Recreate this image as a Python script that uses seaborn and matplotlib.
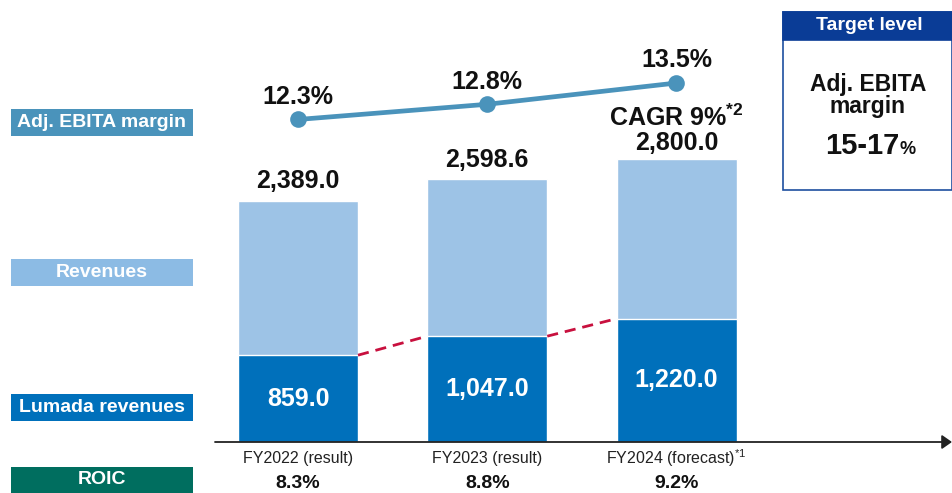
import matplotlib
matplotlib.use("Agg")
import matplotlib.pyplot as plt
from matplotlib.patches import Rectangle
import seaborn as sns
import pandas as pd

# ---- data ----
categories = ["FY2022 (result)", "FY2023 (result)", "FY2024 (forecast)"]
category_labels = ["FY2022 (result)", "FY2023 (result)", r"FY2024 (forecast)$^{*1}$"]
revenues = [2389.0, 2598.6, 2800.0]
lumada = [859.0, 1047.0, 1220.0]
ebita_margin = [12.3, 12.8, 13.5]
roic = ["8.3%", "8.8%", "9.2%"]
revenue_labels = ["2,389.0", "2,598.6", "2,800.0"]
lumada_labels = ["859.0", "1,047.0", "1,220.0"]
margin_labels = ["12.3%", "12.8%", "13.5%"]

sns.set_theme(style="white")
plt.rcParams["font.family"] = ["Liberation Sans", "DejaVu Sans"]
plt.rcParams["mathtext.fontset"] = "custom"
plt.rcParams["mathtext.rm"] = "Liberation Sans"
plt.rcParams["mathtext.bf"] = "Liberation Sans:bold"

W, H = 953, 493
fig = plt.figure(figsize=(W / 100, H / 100), dpi=100)

def fx(px):
    return px / W

def fy(py):
    return 1 - py / H

PT = 0.72  # points per pixel at dpi 100

# main axes: baseline at pixel 442, top at pixel 0
base_px = 442
ax = fig.add_axes([fx(215), fy(base_px), fx(952) - fx(215), fy(0) - fy(base_px)])
scale = 283 / 2800.0  # px per unit
spacing = 189.25
c0 = 298
xlim = ((215 - c0) / spacing, (952 - c0) / spacing)

df = pd.DataFrame({"cat": categories, "rev": revenues, "lum": lumada})
bw = 120 / spacing
sns.barplot(data=df, x="cat", y="rev", color="#9dc3e6", width=bw, ax=ax,
            edgecolor="white", linewidth=1.0, saturation=1)
sns.barplot(data=df, x="cat", y="lum", color="#0070bb", width=bw, ax=ax,
            edgecolor="white", linewidth=1.0, saturation=1)
ax.set_xlim(*xlim)
ax.set_ylim(0, base_px / scale)
for s in ax.spines.values():
    s.set_visible(False)
ax.set_xticks([])
ax.set_yticks([])
ax.set_xlabel("")
ax.set_ylabel("")

# axis line with arrow
ax.annotate("", xy=(1.0, 0), xytext=(0, 0), xycoords="axes fraction",
            arrowprops=dict(arrowstyle="-|>,head_length=0.5,head_width=0.35",
                            color="#222222", lw=1.3, shrinkA=0, shrinkB=0),
            annotation_clip=False)

# dashed connectors between lumada tops
for i in range(len(lumada) - 1):
    ax.plot([i + bw / 2, i + 1 - bw / 2], [lumada[i], lumada[i + 1]],
            color="#c8103e", lw=2, ls=(0, (4, 2.5)))

# labels
for i in range(len(categories)):
    if i < 2:
        ax.annotate(revenue_labels[i], (i, revenues[i]), xytext=(0, 19.5 * PT),
                    textcoords="offset points", ha="center", va="center",
                    fontsize=18, fontweight="bold", color="#111111")
    ax.text(i, lumada[i] / 2, lumada_labels[i], ha="center", va="center",
            fontsize=18, fontweight="bold", color="white")
    ax.annotate(category_labels[i], (i, 0), xytext=(0, -16 * PT),
                textcoords="offset points", ha="center", va="center",
                fontsize=11.5, color="#222222", annotation_clip=False)
    ax.annotate(roic[i], (i, 0), xytext=(0, -41 * PT), textcoords="offset points",
                ha="center", va="center", fontsize=14, fontweight="bold",
                color="#111111", annotation_clip=False)

# 2,800.0 and CAGR
ax.annotate(revenue_labels[2], (2, revenues[2]), xytext=(0, 16 * PT),
            textcoords="offset points", ha="center", va="center",
            fontsize=18, fontweight="bold", color="#111111")
ax.annotate(r"CAGR 9%$^{\mathbf{*2}}$", (2, revenues[2]), xytext=(0, 41 * PT),
            textcoords="offset points", ha="center", va="center",
            fontsize=18, fontweight="bold", color="#111111")

# margin line on twin axis
ax2 = ax.twinx()
ax2.set_ylim((493.4 - base_px) / 30.4, 493.4 / 30.4)
sns.lineplot(x=[0, 1, 2], y=ebita_margin, ax=ax2, color="#4a93bb", lw=3.4,
             marker="o", markersize=12, markeredgewidth=0)
ax2.set_xlim(*xlim)
for s in ax2.spines.values():
    s.set_visible(False)
ax2.set_yticks([])
ax2.set_ylabel("")
for i, v in enumerate(ebita_margin):
    ax2.annotate(margin_labels[i], (i, v), xytext=(0, 22.5 * PT),
                 textcoords="offset points", ha="center", va="center",
                 fontsize=18, fontweight="bold", color="#111111")

# left legend-like boxes
boxes = [("Adj. EBITA margin", 109, 136, "#4a93bb"),
         ("Revenues", 259, 286, "#8cbbe4"),
         ("Lumada revenues", 394, 421, "#0070bb"),
         ("ROIC", 467, 493, "#006e5f")]
for label, y0, y1, col in boxes:
    fig.add_artist(Rectangle((fx(11), fy(y1)), fx(193) - fx(11), fy(y0) - fy(y1),
                             transform=fig.transFigure, facecolor=col,
                             edgecolor="none"))
    fig.text(fx(102), fy((y0 + y1) / 2), label, ha="center", va="center",
             fontsize=14, fontweight="bold", color="white")

# target box
fig.add_artist(Rectangle((fx(783), fy(190)), fx(952) - fx(783), fy(12) - fy(190),
                         transform=fig.transFigure, facecolor="white",
                         edgecolor="#1e4fa0", lw=1.2))
fig.add_artist(Rectangle((fx(783), fy(40)), fx(952) - fx(783), fy(12) - fy(40),
                         transform=fig.transFigure, facecolor="#0a3c96",
                         edgecolor="#0a3c96", lw=1.2))
fig.text(fx(869), fy(26), "Target level", ha="center", va="center",
         fontsize=14, fontweight="bold", color="white")
fig.text(fx(868), fy(85), "Adj. EBITA", ha="center", va="center",
         fontsize=16.5, fontweight="bold", color="#111111")
fig.text(fx(868), fy(107), "margin", ha="center", va="center",
         fontsize=16.5, fontweight="bold", color="#111111")
fig.text(fx(899), fy(146), "15-17", ha="right", va="center",
         fontsize=21, fontweight="bold", color="#111111")
fig.text(fx(900), fy(150), "%", ha="left", va="center",
         fontsize=13, fontweight="bold", color="#111111")

fig.savefig("out.png", dpi=100)
